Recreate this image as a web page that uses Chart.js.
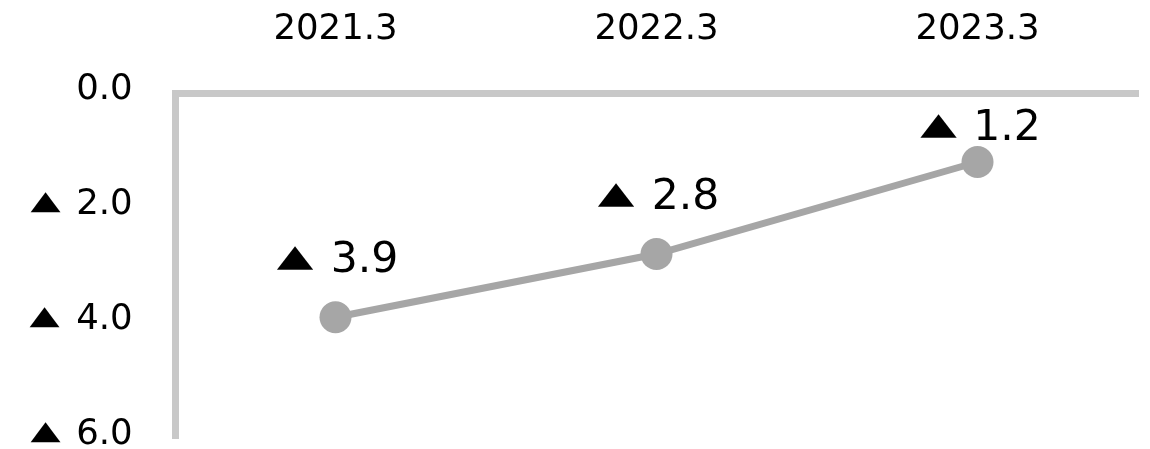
<!DOCTYPE html>
<html>
<head>
<meta charset="utf-8">
<script src="https://cdn.jsdelivr.net/npm/chart.js@4"></script>
<style>
html,body{margin:0;padding:0;background:#fff;}
#wrap{width:1150px;height:449px;}
</style>
</head>
<body>
<div id="wrap"><canvas id="c" width="1150" height="449"></canvas></div>
<script>
const categories = ['2021.3', '2022.3', '2023.3'];
const values = [-3.9, -2.8, -1.2];
const yTicks = [0, -2, -4, -6];

const FAMILY = '"DejaVu Sans"';
const TRI = '\u25B2';

function fmt(v) {
  return v < 0 ? TRI + ' ' + Math.abs(v).toFixed(1) : v.toFixed(1);
}

// draws a label such as "▲ 3.9": the triangle glyph is drawn flattened like the original
function drawLabel(ctx, text, anchorX, centerY, size, align) {
  ctx.save();
  ctx.font = size + 'px ' + FAMILY;
  ctx.fillStyle = '#000';
  ctx.textAlign = 'left';
  ctx.textBaseline = 'alphabetic';
  const neg = text.charAt(0) === TRI;
  const num = neg ? text.slice(1).trim() : text;
  const m = ctx.measureText(num);
  const numW = m.actualBoundingBoxLeft + m.actualBoundingBoxRight;
  const digitH = ctx.measureText('0').actualBoundingBoxAscent;
  const baseline = centerY + digitH / 2;
  const triW = neg ? 0.87 * size : 0;
  const triH = 0.58 * size;
  const gap = neg ? 0.47 * size : 0;
  const totalW = triW + gap + numW;
  const left = align === 'right' ? anchorX - totalW : anchorX - totalW / 2;
  if (neg) {
    const tm = ctx.measureText(TRI);
    const tw = tm.actualBoundingBoxLeft + tm.actualBoundingBoxRight;
    const th = tm.actualBoundingBoxAscent + tm.actualBoundingBoxDescent;
    ctx.save();
    ctx.translate(left, baseline - 0.05 * size);
    ctx.scale(triW / tw, triH / th);
    ctx.fillText(TRI, tm.actualBoundingBoxLeft, -tm.actualBoundingBoxDescent);
    ctx.restore();
  }
  ctx.fillText(num, left + triW + gap + m.actualBoundingBoxLeft, baseline);
  ctx.restore();
}

const labelPlugin = {
  id: 'customLabels',
  afterDraw(chart) {
    const ctx = chart.ctx;
    const ys = chart.scales.y;
    ys.ticks.forEach(t => {
      const y = ys.getPixelForValue(t.value);
      drawLabel(ctx, fmt(t.value), ys.right - 44, y - 7, 35.5, 'right');
    });
    const meta = chart.getDatasetMeta(0);
    const area = chart.chartArea;
    meta.data.forEach((pt, i) => {
      const v = chart.data.datasets[0].data[i];
      let cy = pt.y - 61;
      if (cy < area.top + 31) cy = area.top + 31;
      drawLabel(ctx, fmt(v), pt.x + 1, cy, 42.5, 'center');
    });
  }
};

new Chart(document.getElementById('c'), {
  type: 'line',
  data: {
    labels: categories,
    datasets: [{
      data: values,
      borderColor: '#a6a6a6',
      backgroundColor: '#a6a6a6',
      borderWidth: 7,
      pointRadius: 16,
      pointHoverRadius: 16,
      pointBorderWidth: 0,
      pointBackgroundColor: '#a6a6a6',
      tension: 0,
      clip: false
    }]
  },
  options: {
    responsive: false,
    animation: false,
    devicePixelRatio: 1,
    layout: { autoPadding: false, padding: { left: 0, right: 12, top: 0, bottom: 11 } },
    plugins: { legend: { display: false }, tooltip: { enabled: false } },
    scales: {
      x: {
        position: 'top',
        offset: true,
        grid: { display: false, drawTicks: false },
        border: { display: true, color: '#c8c8c8', width: 7 },
        ticks: {
          color: '#000',
          font: { family: 'DejaVu Sans', size: 35.5 },
          padding: 42,
          maxRotation: 0
        },
        afterFit(s) { s.height = 93; s.paddingLeft = 0; s.paddingRight = 0; }
      },
      y: {
        min: -6,
        max: 0,
        afterBuildTicks(s) { s.ticks = yTicks.map(v => ({ value: v })); },
        grid: { display: false, drawTicks: false },
        border: { display: true, color: '#c8c8c8', width: 7 },
        ticks: {
          color: 'rgba(0,0,0,0)',
          font: { family: 'DejaVu Sans', size: 35.5 },
          padding: 44,
          callback: (v) => fmt(v)
        },
        afterFit(s) { s.width = 175; s.paddingTop = 0; s.paddingBottom = 0; }
      }
    }
  },
  plugins: [labelPlugin]
});
</script>
</body>
</html>
